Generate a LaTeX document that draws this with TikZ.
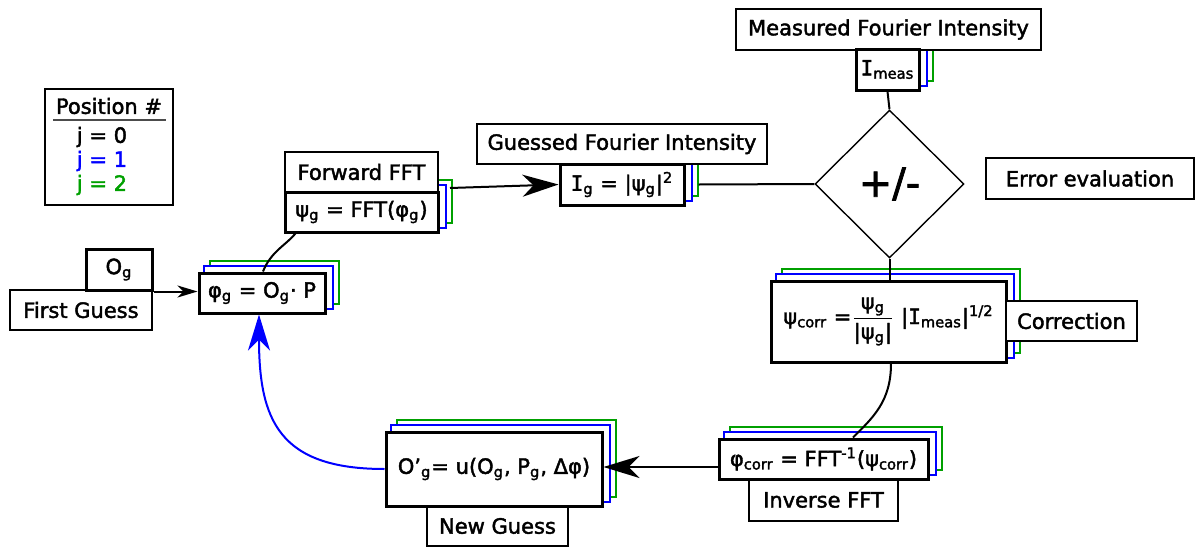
\documentclass[tikz,border=0pt]{standalone}
\usepackage{fontspec}
\setmainfont{DejaVu Sans}[FakeBold=2]
\newfontfamily\monoI{DejaVu Sans Mono}[FakeBold=2]
\newcommand\II{{\monoI I}}
\usepackage{amsmath}
\usetikzlibrary{arrows.meta,shapes.geometric}
\pgfdeclarelayer{background}
\pgfsetlayers{background,main}
\definecolor{stkgreen}{RGB}{0,160,0}
\definecolor{stkblue}{RGB}{0,0,255}
\newcommand\stackof[1]{%
  \begin{pgfonlayer}{background}
    \draw[stkgreen,line width=1pt,fill=white] ([shift={(6pt,5.25pt)}]#1.south west) rectangle ([shift={(6pt,5.25pt)}]#1.north east);
    \draw[stkblue,line width=1pt,fill=white] ([shift={(3pt,2.75pt)}]#1.south west) rectangle ([shift={(3pt,2.75pt)}]#1.north east);
  \end{pgfonlayer}}
\tikzset{
  bx/.style 2 args={minimum width=#1*0.5pt, minimum height=#2*0.5pt},
  lbl/.style={draw, line width=0.6pt, fill=white, inner sep=0pt},
  frm/.style={draw, line width=1.5pt, fill=white, inner sep=0pt},
  conn/.style={line width=1pt},
  tipS/.style={-{Stealth[length=10pt,width=6pt,inset=3pt]}},
  tipL/.style={-{Stealth[length=18pt,width=11pt,inset=5.5pt]}},
}
\begin{document}
\begin{tikzpicture}[x=0.5pt,y=-0.5pt,every node/.style={font=\fontsize{10.5}{12.6}\selectfont}]
\useasboundingbox (0,0) rectangle (1196,547);

% legend
\node[draw, line width=0.7pt, bx={128}{116}, inner sep=0pt] (leg) at (109,147) {};
\node (legT) at (109,106) {Position \#};
\coordinate (legL) at (53,120);
\coordinate (legR) at (166,120);
\draw[line width=0.6pt, black!70] (legL) -- (legR);
\node (leg0) at (102,137) {j = 0};
\node[text=stkblue] (leg1) at (102,161) {j = 1};
\node[text=stkgreen] (leg2) at (102,185) {j = 2};

% first guess
\node[lbl, bx={142}{40}] (fg) at (81,310) {First Guess};
\node[frm, bx={66}{41}] (og) at (119,269.5) {O\textsubscript{g}};

% labels
\node[lbl, bx={153}{40}] (fwd) at (361.5,172) {Forward FFT};
\node[lbl, bx={290}{40}] (gfi) at (622,144) {Guessed Fourier Intensity};
\node[lbl, bx={305}{41}] (mfi) at (888.5,29.5) {Measured Fourier Intensity};
\node[lbl, bx={208}{41}] (err) at (1090,178.5) {Error evaluation};
\node[lbl, bx={149}{42}] (inv) at (823.5,500) {Inverse FFT};
\node[lbl, bx={141}{40}] (ng) at (497.5,526) {New Guess};

% formula boxes
\node[frm, bx={126}{40}] (phi) at (262,293) {φ\textsubscript{g} = O\textsubscript{g}· P};
\node[frm, bx={153}{40}] (psi) at (361.5,212) {ψ\textsubscript{g} = FFT(φ\textsubscript{g})};
\node[frm, bx={124}{41}] (ig) at (622,184.5) {\II\textsubscript{g} = |ψ\textsubscript{g}|\textsuperscript{2}};
\node[frm, bx={63}{41}] (im) at (887.5,69.5) {\II\textsubscript{meas}};
\node[frm, bx={235}{81}] (corr) at (888.5,321.5) {ψ\textsubscript{corr} =$\dfrac{\text{ψ\textsubscript{g}}}{\text{|ψ\textsubscript{g}|}}$ |\II\textsubscript{meas}|\textsuperscript{1/2}};
\node[frm, bx={209}{40}] (pc) at (823.5,459) {φ\textsubscript{corr} = FFT\textsuperscript{-1}(ψ\textsubscript{corr})};
\node[frm, bx={216}{74}] (ogn) at (494,469) {O'\textsubscript{g}= u(O\textsubscript{g}, P\textsubscript{g}, Δφ)};
\node[lbl, bx={131}{40}] (corrL) at (1071.5,321) {Correction};

\stackof{phi}
\stackof{psi}
\stackof{ig}
\stackof{im}
\stackof{corr}
\stackof{pc}
\stackof{ogn}

% diamond
\node[diamond, draw, line width=0.7pt, aspect=1, bx={149}{148}, inner sep=0pt, font=\fontsize{20}{24}\selectfont] (dia) at (889.5,184) {+/-};

% connectors
\draw[conn, tipS] (og.south east) -- (phi.west |- og.south east);
\coordinate (phitop) at ([xshift=0.5pt]phi.north);
\coordinate (psiin) at ([xshift=6pt]psi.south west);
\draw[conn] (phitop) .. controls +(8,-20) and +(-10,12) .. (psiin);
\coordinate (psiout) at (450,188);
\draw[conn, tipL] (psiout) -- (ig.west);
\coordinate (igout) at ([xshift=6.5pt]ig.east);
\draw[conn] (igout) -- (dia.west);
\draw[conn] (im.south) -- (dia.north);
\draw[conn] (dia.south) -- (dia.south |- corr.north);
\coordinate (corrout) at ([xshift=1.25pt]corr.south);
\coordinate (pcin) at ([xshift=14.75pt]pc.north);
\draw[conn] (corrout) .. controls +(0,38) and +(20,-20) .. (pcin);
\coordinate (pcout) at ([yshift=-4pt]pc.west);
\draw[conn, tipL] (pcout) -- (ogn.east |- pcout);
\coordinate (phiin) at ([xshift=-1.5pt]phi.south);
\draw[conn, stkblue, tipL] (ogn.west) .. controls +(-106,0) and +(0,105) .. (phiin);
\end{tikzpicture}
\end{document}
